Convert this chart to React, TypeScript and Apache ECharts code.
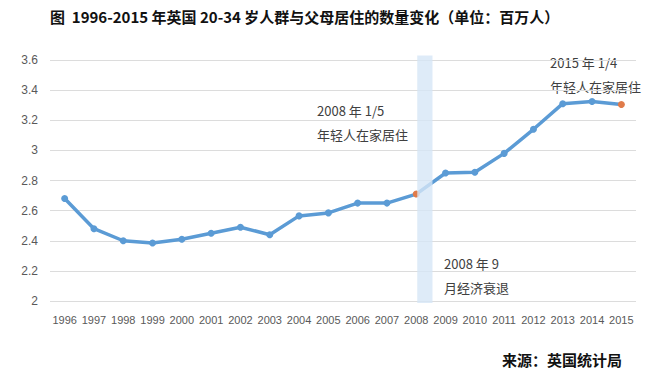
import React, { useEffect, useRef } from "react";
import * as echarts from "echarts";

const years = ["1996","1997","1998","1999","2000","2001","2002","2003","2004","2005","2006","2007","2008","2009","2010","2011","2012","2013","2014","2015"];
const values = [2.68, 2.48, 2.40, 2.385, 2.41, 2.45, 2.49, 2.44, 2.565, 2.585, 2.65, 2.65, 2.71, 2.85, 2.855, 2.98, 3.14, 3.31, 3.325, 3.305];
const highlightYears = ["2008", "2015"];
const recessionIndex = 12;
const yTicks = [2, 2.2, 2.4, 2.6, 2.8, 3, 3.2, 3.4, 3.6];

const BLUE = "#5b9bd5";
const ORANGE = "#e07b4a";
const FONT = "'Noto Sans CJK SC', 'Noto Sans', sans-serif";

export default function App() {
  const ref = useRef<HTMLDivElement>(null);
  useEffect(() => {
    if (!ref.current) return;
    const chart = echarts.init(ref.current, null, { renderer: "svg" });
    const data = values.map((v, i) => ({
      value: v,
      itemStyle: { color: highlightYears.includes(years[i]) ? ORANGE : BLUE },
    }));
    const annoStyle = { fill: "#404040", fontSize: 13, fontFamily: FONT };
    chart.setOption({
      animation: false,
      backgroundColor: "#ffffff",
      grid: { left: 50, right: 14, top: 60, bottom: 78 },
      xAxis: {
        type: "category",
        data: years,
        boundaryGap: true,
        axisLine: { show: false },
        axisTick: { show: false },
        axisLabel: { interval: 0, color: "#595959", fontSize: 11, fontFamily: "'Liberation Sans', Arial, sans-serif", margin: 13 },
      },
      yAxis: {
        type: "value",
        min: yTicks[0],
        max: yTicks[yTicks.length - 1],
        interval: 0.2,
        axisLine: { show: false },
        axisTick: { show: false },
        splitLine: { lineStyle: { color: "#dcdcdc" } },
        axisLabel: {
          color: "#595959",
          fontSize: 12,
          margin: 12,
          fontFamily: "'Liberation Sans', Arial, sans-serif",
          formatter: (v: number) => String(Math.round(v * 10) / 10),
        },
      },
      series: [
        {
          type: "line",
          data,
          z: 2,
          symbol: "circle",
          symbolSize: 7,
          lineStyle: { color: BLUE, width: 3.5 },
          itemStyle: { color: BLUE },
        },
        {
          type: "custom",
          z: 5,
          silent: true,
          data: [[recessionIndex, 3.63]],
          renderItem: (params: any, api: any) => {
            const top = api.coord([api.value(0), 3.63]);
            const bottom = api.coord([api.value(0), 2]);
            const w = api.size([1, 0])[0] * 0.52;
            return {
              type: "rect",
              shape: { x: top[0] + 1, y: top[1], width: w, height: bottom[1] - top[1] + 2 },
              style: { fill: "rgba(214,230,246,0.8)" },
            };
          },
        },
      ],
      graphic: [
        { type: "text", left: 50, top: 9, style: { text: "图  1996-2015 年英国 20-34 岁人群与父母居住的数量变化（单位：百万人）", fill: "#111", fontSize: 15, fontWeight: "bold", fontFamily: FONT } },
        { type: "text", left: 317, top: 104, style: { text: "2008 年 1/5", ...annoStyle } },
        { type: "text", left: 317, top: 128, style: { text: "年轻人在家居住", ...annoStyle } },
        { type: "text", left: 550, top: 56, style: { text: "2015 年 1/4", ...annoStyle } },
        { type: "text", left: 550, top: 80, style: { text: "年轻人在家居住", ...annoStyle } },
        { type: "text", left: 444, top: 257, style: { text: "2008 年 9", ...annoStyle } },
        { type: "text", left: 444, top: 281, style: { text: "月经济衰退", ...annoStyle } },
        { type: "text", right: 28, top: 352, style: { text: "来源：英国统计局", fill: "#111", fontSize: 15, fontWeight: "bold", fontFamily: FONT } },
      ],
    });
    return () => chart.dispose();
  }, []);
  return <div ref={ref} style={{ width: 650, height: 379, position: "absolute", left: 0, top: 0 }} />;
}
